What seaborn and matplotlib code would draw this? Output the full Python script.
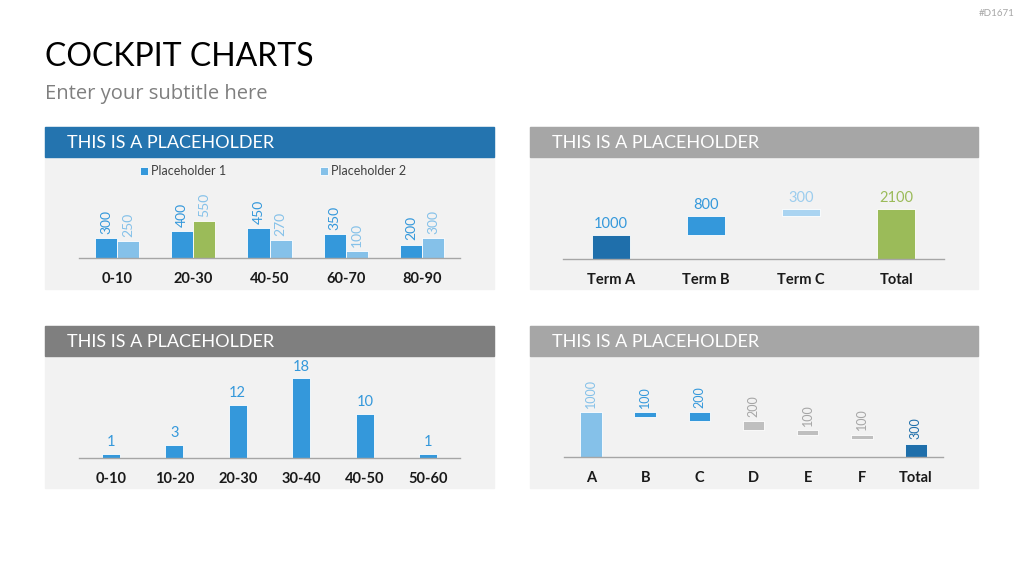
import pandas as pd
import numpy as np
import seaborn as sns
import matplotlib.pyplot as plt
from matplotlib.patches import Rectangle

# data
grp_cats = ["0-10", "20-30", "40-50", "60-70", "80-90"]
ph1 = [300, 400, 450, 350, 200]
ph2 = [250, 550, 270, 100, 300]

terms = ["Term A", "Term B", "Term C", "Total"]
term_vals = [1000, 800, 300, 2100]
term_base = [0, 1000, 1800, 0]

hist_cats = ["0-10", "10-20", "20-30", "30-40", "40-50", "50-60"]
hist_vals = [1, 3, 12, 18, 10, 1]

wf_cats = ["A", "B", "C", "D", "E", "F", "Total"]
wf_vals = [1000, 100, 200, 200, 100, 100, 300]
wf_base = [0, 900, 800, 600, 500, 400, 0]

# colours
DARK = "#1F6FAB"
MID = "#3498DB"
LIGHT = "#85C1E9"
PALE = "#AAD4F1"
GREEN = "#9BBB59"
GREY = "#BFBFBF"
GREYTXT = "#A6A6A6"

sns.set_theme(style="white")
plt.rcParams["font.family"] = ["Lato", "DejaVu Sans"]

W, H = 1024, 576
fig = plt.figure(figsize=(10.24, 5.76), dpi=100)
fig.patch.set_facecolor("white")


def box(x0, y0, x1, y1):
    return [x0 / W, 1 - y1 / H, (x1 - x0) / W, (y1 - y0) / H]


def panel(x0, y0, x1, y1, head_col):
    fig.add_artist(Rectangle((x0 / W, 1 - y1 / H), (x1 - x0) / W, (y1 - y0) / H,
                             transform=fig.transFigure, color="#F2F2F2", zorder=0))
    fig.add_artist(Rectangle((x0 / W, 1 - (y0 + 30) / H), (x1 - x0) / W, 30 / H,
                             transform=fig.transFigure, color=head_col, zorder=0))
    fig.text((x0 + 22) / W, 1 - (y0 + 16) / H, "THIS IS A PLACEHOLDER", color="white",
             fontsize=13, va="center", ha="left")


def style_ax(ax):
    ax.set_facecolor("none")
    sns.despine(ax=ax, left=True)
    ax.spines["bottom"].set_color("#A6A6A6")
    ax.spines["bottom"].set_linewidth(1)
    ax.set_yticks([])
    ax.set_xlabel("")
    ax.set_ylabel("")
    ax.tick_params(axis="x", length=0, pad=10)
    for t in ax.get_xticklabels():
        t.set_fontweight("bold")
        t.set_fontsize(10.5)
        t.set_color("#1A1A1A")


fig.text(45 / W, 1 - 57 / H, "COCKPIT CHARTS", fontsize=23, va="center", ha="left", color="#000000")
fig.text(45 / W, 1 - 94 / H, "Enter your subtitle here", fontsize=14.5, va="center", ha="left",
         color="#7F7F7F", family=["Open Sans", "DejaVu Sans"])
fig.text(1015 / W, 1 - 14 / H, "#D1671", fontsize=7, va="center", ha="right", color="#A6A6A6")

panel(45, 127, 494, 289, "#2474AF")
panel(530, 127, 978, 289, "#A6A6A6")
panel(45, 326, 494, 488, "#7F7F7F")
panel(530, 326, 978, 488, "#A6A6A6")

# top left: grouped bars
df1 = pd.DataFrame({"cat": grp_cats * 2, "val": ph1 + ph2,
                    "series": ["Placeholder 1"] * 5 + ["Placeholder 2"] * 5})
ax1 = fig.add_axes(box(79, 185, 460, 258))
sns.barplot(data=df1, x="cat", y="val", hue="series", palette=[MID, LIGHT], width=0.58,
            saturation=1, edgecolor="white", linewidth=0.6, ax=ax1)
ax1.containers[1][1].set_facecolor(GREEN)
ax1.set_ylim(0, 1085)
for cont, vals, col in zip(ax1.containers, [ph1, ph2], [MID, LIGHT]):
    ax1.bar_label(cont, labels=[str(v) for v in vals], rotation=90, padding=3, color=col, fontsize=10)
h, l = ax1.get_legend_handles_labels()
ax1.legend(h, l, loc="center", bbox_to_anchor=(0.51, 1.19), ncol=2, frameon=False,
           fontsize=9, handlelength=0.6, handleheight=0.6, handletextpad=0.3,
           columnspacing=7.5, labelcolor="#404040")
style_ax(ax1)

# top right: waterfall
df2 = pd.DataFrame({"cat": terms, "val": term_vals})
ax2 = fig.add_axes(box(563, 185, 944, 259))
sns.barplot(data=df2, x="cat", y="val", hue="cat", palette=[DARK, MID, PALE, GREEN],
            width=0.4, legend=False, saturation=1, edgecolor="white", linewidth=0.6, ax=ax2)
for cont, v, b, col in zip(ax2.containers, term_vals, term_base, [MID, MID, "#9CCDEE", GREEN]):
    for p in cont:
        p.set_y(b)
    ax2.bar_label(cont, labels=[str(v)], padding=3, color=col, fontsize=10.5)
ax2.set_ylim(0, 3108)
style_ax(ax2)

# bottom left: distribution
df3 = pd.DataFrame({"cat": hist_cats, "val": hist_vals})
ax3 = fig.add_axes(box(79, 365, 460, 458))
sns.barplot(data=df3, x="cat", y="val", color=MID, width=0.29, saturation=1,
            edgecolor="white", linewidth=0.6, ax=ax3)
ax3.bar_label(ax3.containers[0], padding=3, color=MID, fontsize=10.5)
ax3.set_ylim(0, 20.9)
style_ax(ax3)

# bottom right: waterfall
wf_cols = [LIGHT, MID, MID, GREY, GREY, GREY, DARK]
wf_txt = [LIGHT, MID, MID, GREYTXT, GREYTXT, GREYTXT, DARK]
df4 = pd.DataFrame({"cat": wf_cats, "val": wf_vals})
ax4 = fig.add_axes(box(564, 365, 943, 457))
sns.barplot(data=df4, x="cat", y="val", hue="cat", palette=wf_cols, width=0.4, legend=False,
            saturation=1, edgecolor="white", linewidth=0.6, ax=ax4)
for cont, v, b, col in zip(ax4.containers, wf_vals, wf_base, wf_txt):
    for p in cont:
        p.set_y(b)
    ax4.bar_label(cont, labels=[str(v)], rotation=90, padding=3, color=col, fontsize=9)
ax4.set_ylim(0, 2051)
style_ax(ax4)

fig.savefig("out.png", dpi=100)
